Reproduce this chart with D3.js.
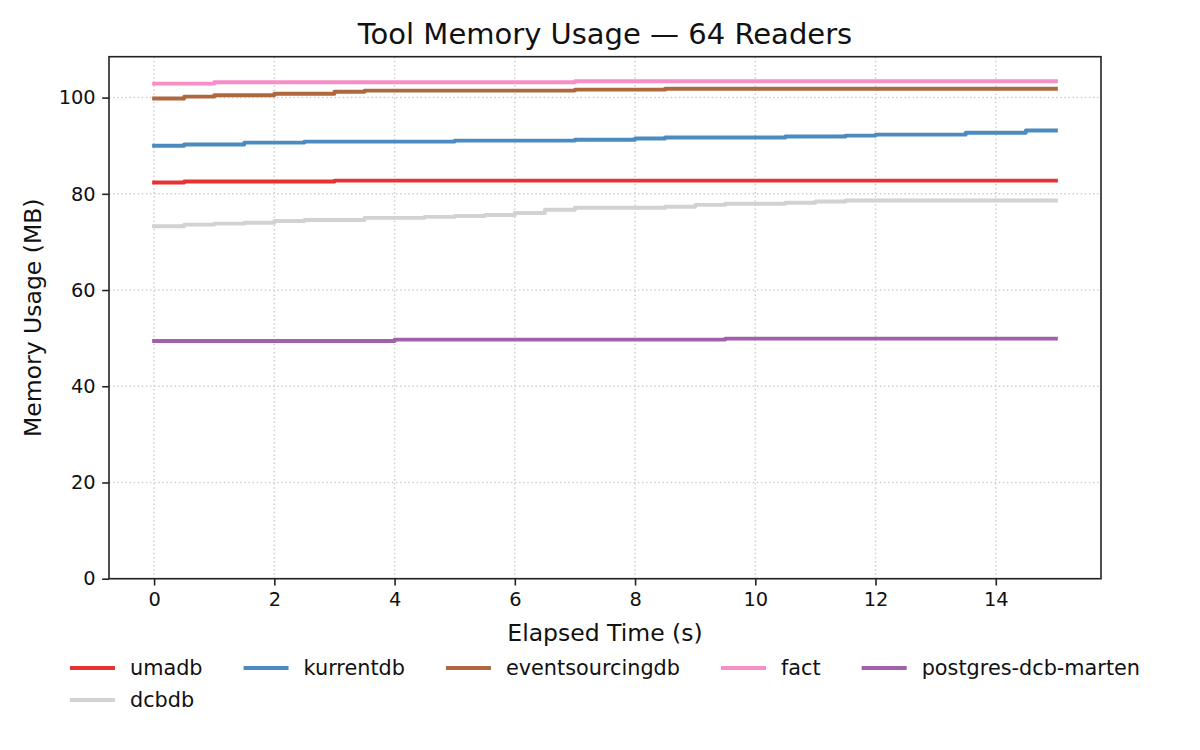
<!DOCTYPE html>
<meta charset="utf-8">
<head>
  <meta charset="UTF-8">
  <title>Tool Memory Usage</title>
  <script src="https://d3js.org/d3.v7.min.js"></script>
  <style>
    body { margin: 0; background: #fff; }
    svg { display: block; background: #fff; font-family: "DejaVu Sans", sans-serif; }
  </style>
</head>
<body>
<div id="my_dataviz"></div>

<script>

// elapsed time, sampled every half second
var times = [0, 0.5, 1, 1.5, 2, 2.5, 3, 3.5, 4, 4.5, 5, 5.5, 6, 6.5, 7, 7.5,
             8, 8.5, 9, 9.5, 10, 10.5, 11, 11.5, 12, 12.5, 13, 13.5, 14, 14.5, 15];

// memory (MB) per tool
var umadb = [82.35, 82.55, 82.55, 82.55, 82.55, 82.55, 82.75, 82.75, 82.75, 82.75, 82.75,
             82.75, 82.75, 82.75, 82.75, 82.75, 82.75, 82.75, 82.75, 82.75, 82.75, 82.75,
             82.75, 82.75, 82.75, 82.75, 82.75, 82.75, 82.75, 82.75, 82.75];
var kurrentdb = [90.0, 90.25, 90.25, 90.65, 90.65, 90.85, 90.85, 90.85, 90.85, 90.85, 91.05,
                 91.05, 91.05, 91.05, 91.25, 91.25, 91.5, 91.7, 91.7, 91.7, 91.7, 91.9,
                 91.9, 92.1, 92.3, 92.3, 92.3, 92.7, 92.7, 93.15, 93.15];
var eventsourcingdb = [99.8, 100.2, 100.5, 100.5, 100.8, 100.8, 101.2, 101.45, 101.45, 101.45, 101.45,
                       101.45, 101.45, 101.45, 101.65, 101.65, 101.65, 101.85, 101.85, 101.85, 101.85, 101.85,
                       101.85, 101.85, 101.85, 101.85, 101.85, 101.85, 101.85, 101.85, 101.85];
var fact = [102.9, 102.9, 103.2, 103.2, 103.2, 103.2, 103.2, 103.2, 103.2, 103.2, 103.2,
            103.2, 103.2, 103.2, 103.4, 103.4, 103.4, 103.4, 103.4, 103.4, 103.4, 103.4,
            103.4, 103.4, 103.4, 103.4, 103.4, 103.4, 103.4, 103.4, 103.4];
var postgresDcbMarten = [49.4, 49.4, 49.4, 49.4, 49.4, 49.4, 49.4, 49.4, 49.7, 49.7, 49.7,
                         49.7, 49.7, 49.7, 49.7, 49.7, 49.7, 49.7, 49.7, 49.9, 49.9, 49.9,
                         49.9, 49.9, 49.9, 49.9, 49.9, 49.9, 49.9, 49.9, 49.9];
var dcbdb = [73.25, 73.6, 73.8, 74.0, 74.35, 74.55, 74.55, 75.0, 75.0, 75.2, 75.4,
             75.6, 76.0, 76.7, 77.1, 77.1, 77.1, 77.3, 77.7, 77.95, 77.95, 78.15,
             78.4, 78.6, 78.6, 78.6, 78.6, 78.6, 78.6, 78.6, 78.6];

var seriesNames = ["umadb", "kurrentdb", "eventsourcingdb", "fact", "postgres-dcb-marten", "dcbdb"];
var seriesValues = [umadb, kurrentdb, eventsourcingdb, fact, postgresDcbMarten, dcbdb];
var seriesColors = ["#e73132", "#4b8bbf", "#af673e", "#f78ec6", "#a260ac", "#d2d2d2"];

var xTicks = [0, 2, 4, 6, 8, 10, 12, 14];
var yTicks = [0, 20, 40, 60, 80, 100];

// set the dimensions and margins of the graph
var W = 1200, H = 750;
var margin = {top: 56.7, right: 99, bottom: 171.3, left: 109},
    width = W - margin.left - margin.right,
    height = H - margin.top - margin.bottom;

var svg = d3.select("#my_dataviz")
  .append("svg")
    .attr("width", W)
    .attr("height", H);

var g = svg.append("g")
    .attr("transform", "translate(" + margin.left + "," + margin.top + ")");

var x = d3.scaleLinear().domain([-0.75, 15.75]).range([0, width]);
var y = d3.scaleLinear().domain([0, 108.5]).range([height, 0]);

// dotted grid
g.append("g").selectAll("line")
  .data(xTicks)
  .enter().append("line")
    .attr("x1", function(d) { return x(d); })
    .attr("x2", function(d) { return x(d); })
    .attr("y1", 0)
    .attr("y2", height)
    .attr("stroke", "#cfcfcf")
    .attr("stroke-width", 1.5)
    .attr("stroke-dasharray", "1.5,2.6");
g.append("g").selectAll("line")
  .data(yTicks)
  .enter().append("line")
    .attr("x1", 0)
    .attr("x2", width)
    .attr("y1", function(d) { return y(d); })
    .attr("y2", function(d) { return y(d); })
    .attr("stroke", "#cfcfcf")
    .attr("stroke-width", 1.5)
    .attr("stroke-dasharray", "1.5,2.6");

// step lines
var line = d3.line()
  .curve(d3.curveStepAfter)
  .x(function(d, i) { return x(times[i]); })
  .y(function(d) { return y(d); });

seriesValues.forEach(function(vals, k) {
  g.append("path")
    .datum(vals)
    .attr("fill", "none")
    .attr("stroke", seriesColors[k])
    .attr("stroke-width", 3.9)
    .attr("stroke-linecap", "square")
    .attr("stroke-linejoin", "round")
    .attr("d", line);
});

// axes
var xAxis = g.append("g")
  .attr("transform", "translate(0," + height + ")")
  .call(d3.axisBottom(x).tickValues(xTicks).tickSize(6.8).tickPadding(6.5).tickFormat(d3.format("d")));
var yAxis = g.append("g")
  .call(d3.axisLeft(y).tickValues(yTicks).tickSize(6.8).tickPadding(6.5).tickFormat(d3.format("d")));

[xAxis, yAxis].forEach(function(a) {
  a.select(".domain").remove();
  a.selectAll(".tick line").attr("stroke", "#222").attr("stroke-width", 1.6);
  a.selectAll(".tick text")
    .attr("fill", "#111")
    .style("font-family", "DejaVu Sans")
    .style("font-size", "19.4px");
});

// frame
g.append("rect")
  .attr("width", width)
  .attr("height", height)
  .attr("fill", "none")
  .attr("stroke", "#222")
  .attr("stroke-width", 1.6);

// title and axis labels
svg.append("text")
  .attr("x", margin.left + width / 2)
  .attr("y", 44)
  .attr("text-anchor", "middle")
  .style("font-size", "29px")
  .attr("fill", "#111")
  .text("Tool Memory Usage \u2014 64 Readers");

svg.append("text")
  .attr("x", margin.left + width / 2)
  .attr("y", 641)
  .attr("text-anchor", "middle")
  .style("font-size", "23.5px")
  .attr("fill", "#111")
  .text("Elapsed Time (s)");

svg.append("text")
  .attr("transform", "translate(41," + (margin.top + height / 2) + ")rotate(-90)")
  .attr("text-anchor", "middle")
  .style("font-size", "23.5px")
  .attr("fill", "#111")
  .text("Memory Usage (MB)");

// legend, 5 columns centered under the axes
var nCol = 5, handleLen = 45, handlePad = 15, colGap = 41, rowH = 32, legTop = 668;
var leg = svg.append("g");
var items = leg.selectAll("g")
  .data(seriesNames)
  .enter().append("g");
items.append("line")
  .attr("x1", 0).attr("x2", handleLen)
  .attr("stroke", function(d, i) { return seriesColors[i]; })
  .attr("stroke-width", 3.9);
items.append("text")
  .attr("x", handleLen + handlePad)
  .attr("dy", "0.35em")
  .style("font-size", "20.8px")
  .attr("fill", "#111")
  .text(function(d) { return d; });

var colW = d3.range(nCol).map(function() { return 0; });
items.each(function(d, i) {
  var w = d3.select(this).select("text").node().getComputedTextLength();
  colW[i % nCol] = Math.max(colW[i % nCol], handleLen + handlePad + w);
});
var total = d3.sum(colW) + colGap * (nCol - 1);
var colX = [], acc = margin.left + width / 2 - total / 2;
colW.forEach(function(w) { colX.push(acc); acc += w + colGap; });
items.attr("transform", function(d, i) {
  return "translate(" + colX[i % nCol] + "," + (legTop + Math.floor(i / nCol) * rowH) + ")";
});

</script>
</body>
